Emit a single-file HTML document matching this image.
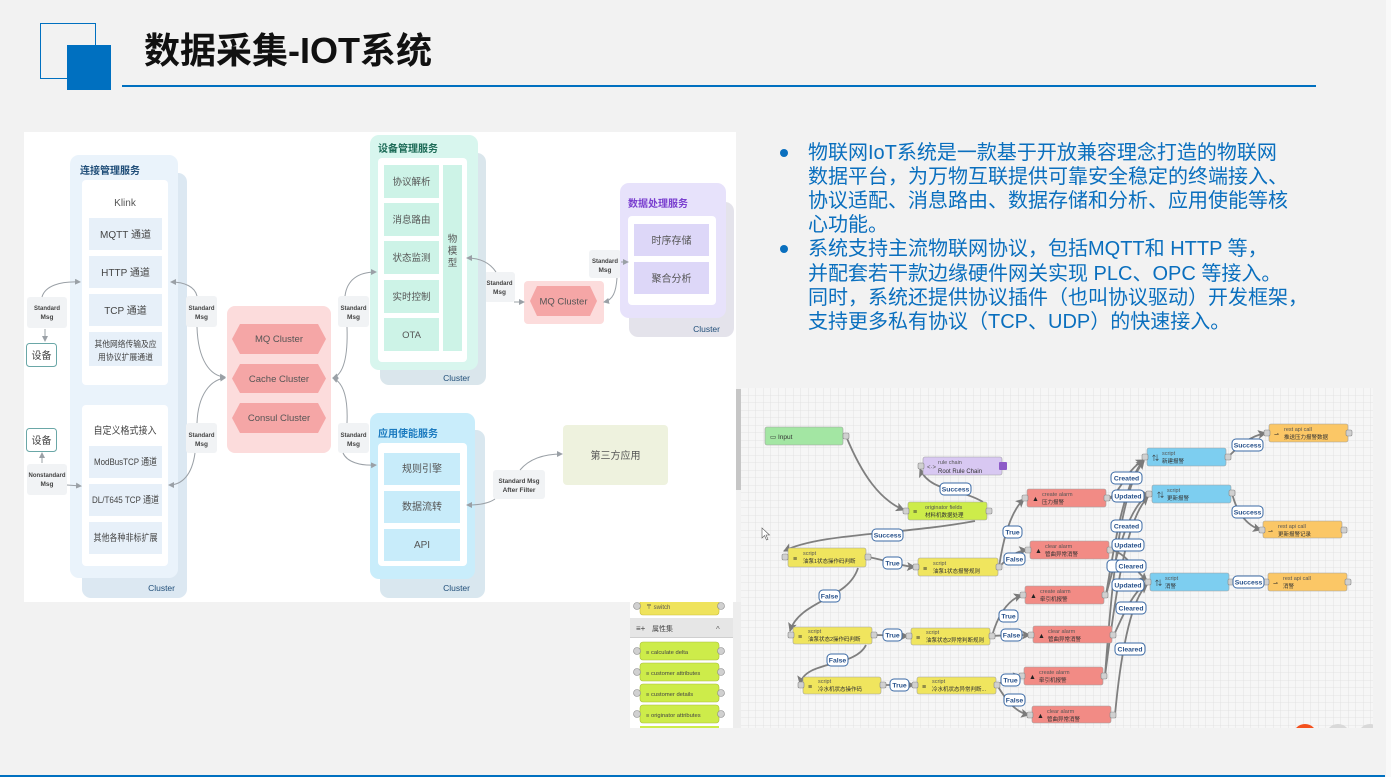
<!DOCTYPE html>
<html><head><meta charset="utf-8">
<style>
html,body{margin:0;padding:0;}
body{width:1391px;height:777px;background:#f2f2f2;position:relative;overflow:hidden;font-family:"Liberation Sans","Noto Sans CJK SC",sans-serif;}
svg{position:absolute;left:0;top:0;}
.title{position:absolute;left:144px;top:29px;font-size:36px;font-weight:bold;color:#111;line-height:44px;white-space:nowrap;font-family:"Liberation Sans","Noto Sans CJK SC",sans-serif;}
.bl{position:absolute;left:808px;font-size:20px;color:#0a6fbe;white-space:nowrap;line-height:24px;font-family:"Liberation Sans","Noto Sans CJK SC",sans-serif;}
.dot{position:absolute;left:780px;width:8px;height:8px;border-radius:50%;background:#0a6fbe;}
</style></head><body>
<svg width="1391" height="777" viewBox="0 0 1391 777" xmlns="http://www.w3.org/2000/svg" font-family="Liberation Sans, Noto Sans CJK SC, sans-serif">
<defs>
<marker id="ah" markerWidth="6" markerHeight="6" refX="5" refY="3" orient="auto" markerUnits="userSpaceOnUse"><path d="M0,0 L6,3 L0,6 Z" fill="#9aa0a6"/></marker>
<marker id="fa" markerWidth="9" markerHeight="9" refX="8" refY="4.5" orient="auto" markerUnits="userSpaceOnUse"><path d="M0,0 L9,4.5 L0,9 L2,4.5 Z" fill="#7a7a7a"/></marker>
<pattern id="grid" width="7.5" height="7.5" patternUnits="userSpaceOnUse" x="741" y="388"><path d="M7.5 0V7.5H0" fill="none" stroke="#dedede" stroke-width=".8"/></pattern>
<clipPath id="gc"><rect x="741" y="388" width="632" height="340"/></clipPath>
</defs>

<!-- header -->
<rect x="40.5" y="23.5" width="55" height="55" fill="none" stroke="#0070c0" stroke-width="1"/>
<rect x="67" y="45" width="44" height="45" fill="#0070c0"/>
<rect x="122" y="85" width="1194" height="2" fill="#0070c0"/>

<!-- right stripe & bottom line -->
<rect x="1386" y="0" width="5" height="777" fill="#f9f9f9"/>
<rect x="0" y="775" width="1385" height="2" fill="#0070c0"/>

<!-- flow grid -->
<rect x="741" y="388" width="632" height="340" fill="#f6f6f6"/>
<rect x="741" y="388" width="632" height="340" fill="url(#grid)"/>
<rect x="736" y="389" width="5" height="101" fill="#c6c6c6"/>
<rect x="733" y="602" width="8" height="126" fill="#ededed"/>
<g clip-path="url(#gc)">
<circle cx="1305" cy="736" r="12" fill="#f4511e"/>
<circle cx="1338" cy="736" r="12" fill="#d9d9d9"/>
<circle cx="1370" cy="736" r="12" fill="#d9d9d9"/>
</g>

<!-- palette -->
<rect x="630" y="596" width="103" height="132" fill="#fff"/>
<rect x="640" y="596" width="79" height="19" rx="3" fill="#efe35c" stroke="#c9bd3c" stroke-width=".6"/>
<circle cx="637" cy="606" r="3.5" fill="#d0d0d0" stroke="#8a8a8a" stroke-width=".6"/>
<circle cx="721" cy="606" r="3.5" fill="#d0d0d0" stroke="#8a8a8a" stroke-width=".6"/>
<text x="646" y="609" font-size="6" fill="#555">〒 switch</text>
<rect x="630" y="618" width="103" height="20" fill="#e6e6e6"/>
<rect x="630" y="637" width="103" height="1" fill="#cfcfcf"/>
<text x="636" y="631" font-size="8" fill="#444">≡+</text>
<text x="652" y="631" font-size="7" fill="#444">属性集</text>
<text x="716" y="632" font-size="8" fill="#666">^</text>
<g font-size="5.8" fill="#444">
<rect x="640" y="642" width="79" height="18" rx="3" fill="#cdec4a" stroke="#a8bd38" stroke-width=".6"/>
<rect x="640" y="663" width="79" height="18" rx="3" fill="#cdec4a" stroke="#a8bd38" stroke-width=".6"/>
<rect x="640" y="684" width="79" height="18" rx="3" fill="#cdec4a" stroke="#a8bd38" stroke-width=".6"/>
<rect x="640" y="705" width="79" height="18" rx="3" fill="#cdec4a" stroke="#a8bd38" stroke-width=".6"/>
<rect x="640" y="726" width="79" height="2" fill="#cdec4a"/>
<text x="646" y="654">≡ calculate delta</text>
<text x="646" y="675">≡ customer attributes</text>
<text x="646" y="696">≡ customer details</text>
<text x="646" y="717">≡ originator attributes</text>
</g>
<g fill="#d0d0d0" stroke="#8a8a8a" stroke-width=".6">
<circle cx="637" cy="651" r="3.5"/><circle cx="721" cy="651" r="3.5"/>
<circle cx="637" cy="672" r="3.5"/><circle cx="721" cy="672" r="3.5"/>
<circle cx="637" cy="693" r="3.5"/><circle cx="721" cy="693" r="3.5"/>
<circle cx="637" cy="714" r="3.5"/><circle cx="721" cy="714" r="3.5"/>
</g>

<!-- ============ LEFT DIAGRAM ============ -->
<rect x="24" y="132" width="712" height="470" fill="#fff"/>

<!-- 连接管理服务 -->
<rect x="82" y="173" width="105" height="425" rx="9" fill="#dce8f2"/>
<rect x="70" y="155" width="108" height="423" rx="9" fill="#eaf3fb"/>
<text x="80" y="174" font-size="10" font-weight="bold" fill="#1f4d78">连接管理服务</text>
<text x="175" y="591" font-size="8.5" text-anchor="end" fill="#1f4d78">Cluster</text>
<rect x="82" y="180" width="86" height="205" rx="4" fill="#fff"/>
<text x="125" y="206" font-size="10" text-anchor="middle" fill="#555">Klink</text>
<g fill="#e7f0f9">
<rect x="89" y="218" width="73" height="32"/>
<rect x="89" y="256" width="73" height="32"/>
<rect x="89" y="294" width="73" height="32"/>
<rect x="89" y="332" width="73" height="34"/>
</g>
<g font-size="10" text-anchor="middle" fill="#444">
<text x="125.5" y="238">MQTT 通道</text>
<text x="125.5" y="276">HTTP 通道</text>
<text x="125.5" y="314">TCP 通道</text>
<text x="125.5" y="347" font-size="8.5" textLength="62" lengthAdjust="spacingAndGlyphs">其他网络传输及应</text>
<text x="125.5" y="360" font-size="8.5" textLength="55" lengthAdjust="spacingAndGlyphs">用协议扩展通道</text>
</g>
<rect x="82" y="405" width="86" height="161" rx="4" fill="#fff"/>
<text x="125" y="434" font-size="10" text-anchor="middle" fill="#444" textLength="63" lengthAdjust="spacingAndGlyphs">自定义格式接入</text>
<g fill="#e7f0f9">
<rect x="89" y="446" width="73" height="32"/>
<rect x="89" y="484" width="73" height="32"/>
<rect x="89" y="522" width="73" height="32"/>
</g>
<g font-size="9.5" text-anchor="middle" fill="#444">
<text x="125.5" y="465" textLength="63" lengthAdjust="spacingAndGlyphs">ModBusTCP 通道</text>
<text x="125.5" y="503" textLength="67" lengthAdjust="spacingAndGlyphs">DL/T645 TCP 通道</text>
<text x="125.5" y="541" textLength="64" lengthAdjust="spacingAndGlyphs">其他各种非标扩展</text>
</g>

<!-- 设备 boxes -->
<rect x="26.5" y="343.5" width="30" height="23" rx="3" fill="#fff" stroke="#6aa7a7" stroke-width="1"/>
<text x="41.5" y="359" font-size="10" text-anchor="middle" fill="#444">设备</text>
<rect x="26.5" y="428.5" width="30" height="23" rx="3" fill="#fff" stroke="#6aa7a7" stroke-width="1"/>
<text x="41.5" y="444" font-size="10" text-anchor="middle" fill="#444">设备</text>

<!-- Std msg labels -->
<g fill="#f1f3f5">
<rect x="27" y="297" width="40" height="31" rx="3"/>
<rect x="27" y="464" width="40" height="31" rx="3"/>
<rect x="186" y="296" width="31" height="31" rx="3"/>
<rect x="186" y="423" width="31" height="30" rx="3"/>
<rect x="338" y="296" width="31" height="31" rx="3"/>
<rect x="338" y="423" width="31" height="30" rx="3"/>
<rect x="484" y="272" width="31" height="30" rx="3"/>
<rect x="589" y="250" width="32" height="28" rx="3"/>
<rect x="493" y="470" width="52" height="29" rx="3"/>
</g>
<g font-size="6.5" font-weight="bold" fill="#444" text-anchor="middle">
<text x="47" y="310" textLength="26" lengthAdjust="spacingAndGlyphs">Standard</text><text x="47" y="319">Msg</text>
<text x="47" y="477" textLength="37" lengthAdjust="spacingAndGlyphs">Nonstandard</text><text x="47" y="486">Msg</text>
<text x="201.5" y="310" textLength="26" lengthAdjust="spacingAndGlyphs">Standard</text><text x="201.5" y="319">Msg</text>
<text x="201.5" y="437" textLength="26" lengthAdjust="spacingAndGlyphs">Standard</text><text x="201.5" y="446">Msg</text>
<text x="353.5" y="310" textLength="26" lengthAdjust="spacingAndGlyphs">Standard</text><text x="353.5" y="319">Msg</text>
<text x="353.5" y="437" textLength="26" lengthAdjust="spacingAndGlyphs">Standard</text><text x="353.5" y="446">Msg</text>
<text x="499.5" y="285" textLength="26" lengthAdjust="spacingAndGlyphs">Standard</text><text x="499.5" y="294">Msg</text>
<text x="605" y="263" textLength="26" lengthAdjust="spacingAndGlyphs">Standard</text><text x="605" y="272">Msg</text>
<text x="519" y="483" textLength="41" lengthAdjust="spacingAndGlyphs">Standard Msg</text><text x="519" y="492">After Filter</text>
</g>

<!-- cluster center -->
<rect x="227" y="306" width="104" height="147" rx="8" fill="#fcdcdc"/>
<g fill="#f5a6a6">
<polygon points="240,324 318,324 326,339 318,354 240,354 232,339"/>
<polygon points="240,364 318,364 326,378.5 318,393 240,393 232,378.5"/>
<polygon points="240,403 318,403 326,418 318,433 240,433 232,418"/>
</g>
<g font-size="9.5" text-anchor="middle" fill="#555">
<text x="279" y="342">MQ Cluster</text>
<text x="279" y="382">Cache Cluster</text>
<text x="279" y="421">Consul Cluster</text>
</g>

<!-- 设备管理服务 -->
<rect x="380" y="153" width="106" height="232" rx="9" fill="#dae6ec"/>
<rect x="370" y="135" width="108" height="235" rx="9" fill="#d8f6ee"/>
<text x="378" y="152" font-size="10" font-weight="bold" fill="#1d6b57">设备管理服务</text>
<text x="470" y="381" font-size="8.5" text-anchor="end" fill="#1f4d78">Cluster</text>
<rect x="378" y="158" width="89" height="204" rx="4" fill="#fff"/>
<g fill="#cdf3e7">
<rect x="384" y="165" width="55" height="33"/>
<rect x="384" y="203" width="55" height="33"/>
<rect x="384" y="241" width="55" height="33"/>
<rect x="384" y="280" width="55" height="33"/>
<rect x="384" y="318" width="55" height="33"/>
<rect x="443" y="165" width="19" height="186"/>
</g>
<g font-size="9.5" text-anchor="middle" fill="#555">
<text x="411.5" y="185">协议解析</text>
<text x="411.5" y="223">消息路由</text>
<text x="411.5" y="261">状态监测</text>
<text x="411.5" y="300">实时控制</text>
<text x="411.5" y="338">OTA</text>
<text x="452.5" y="242">物</text>
<text x="452.5" y="254">模</text>
<text x="452.5" y="266">型</text>
</g>

<!-- MQ cluster right -->
<rect x="524" y="281" width="80" height="43" rx="4" fill="#fcdcdc"/>
<polygon points="537,286 590,286 597,301 590,316 537,316 530,301" fill="#f5a6a6"/>
<text x="563.5" y="304.5" font-size="9.5" text-anchor="middle" fill="#555">MQ Cluster</text>

<!-- 数据处理服务 -->
<rect x="629" y="202" width="105" height="135" rx="9" fill="#e4e3eb"/>
<rect x="620" y="183" width="106" height="135" rx="9" fill="#e7e2fb"/>
<text x="628" y="207" font-size="10" font-weight="bold" fill="#7a3fcf">数据处理服务</text>
<text x="720" y="332" font-size="8.5" text-anchor="end" fill="#1f4d78">Cluster</text>
<rect x="628" y="216" width="88" height="89" rx="4" fill="#fff"/>
<rect x="634" y="224" width="75" height="32" fill="#ddd7f8"/>
<rect x="634" y="262" width="75" height="32" fill="#ddd7f8"/>
<text x="671.5" y="244" font-size="10" text-anchor="middle" fill="#555">时序存储</text>
<text x="671.5" y="282" font-size="10" text-anchor="middle" fill="#555">聚合分析</text>

<!-- 应用使能服务 -->
<rect x="380" y="430" width="105" height="168" rx="9" fill="#d9e7ef"/>
<rect x="370" y="413" width="105" height="166" rx="9" fill="#c9edfb"/>
<text x="378" y="437" font-size="10" font-weight="bold" fill="#1a7abf">应用使能服务</text>
<text x="470" y="591" font-size="8.5" text-anchor="end" fill="#1f4d78">Cluster</text>
<rect x="378" y="443" width="89" height="123" rx="4" fill="#fff"/>
<g fill="#c8ecfa">
<rect x="384" y="453" width="76" height="32"/>
<rect x="384" y="491" width="76" height="32"/>
<rect x="384" y="529" width="76" height="32"/>
</g>
<g font-size="10" text-anchor="middle" fill="#555">
<text x="422" y="472">规则引擎</text>
<text x="422" y="510">数据流转</text>
<text x="422" y="548">API</text>
</g>

<!-- 第三方应用 -->
<rect x="563" y="425" width="105" height="60" rx="4" fill="#eef2de"/>
<text x="615.5" y="459" font-size="10" text-anchor="middle" fill="#555">第三方应用</text>

<!-- left arrows -->
<g fill="none" stroke="#9aa0a6" stroke-width="1" marker-end="url(#ah)">
<path d="M42,297 C45,286 60,281 80,282"/>
<path d="M45,329 L45,341"/>
<path d="M42,463 L42,453"/>
<path d="M67,485 L81,486"/>
<path d="M197,296 C195,287 185,282 171,282"/>
<path d="M197,327 C198,360 210,376 225,377"/>
<path d="M197,423 C198,395 210,380 225,378"/>
<path d="M195,453 C192,475 182,485 169,485"/>
<path d="M345,296 C347,280 358,272 376,272"/>
<path d="M347,327 C348,355 344,374 333,378"/>
<path d="M347,423 C348,400 344,383 333,378"/>
<path d="M343,453 C347,462 360,466 376,465"/>
<path d="M496,272 C490,263 481,258 467,258"/>
<path d="M514,302 L524,302"/>
<path d="M621,262 L628,262"/>
<path d="M617,278 C616,292 613,300 604,302"/>
<path d="M520,470 C530,458 545,454 562,454"/>
<path d="M495,499 C488,504 478,505 467,505"/>
</g>

<!-- ============ FLOW ============ -->
<g fill="none" stroke="#7f7f7f" stroke-width="1.8">
<path d="M846,436 C862,475 880,500 904,510" marker-end="url(#fa)"/>
<path d="M983,502 C960,488 930,492 920,469" marker-end="url(#fa)"/>
<path d="M975,521 C900,535 820,533 784,551" marker-end="url(#fa)"/>
<path d="M868,557 C885,560 900,566 915,567" marker-end="url(#fa)"/>
<path d="M999,567 C1003,540 1010,512 1024,499" marker-end="url(#fa)"/>
<path d="M999,567 C1008,558 1015,551 1027,550" marker-end="url(#fa)"/>
<path d="M858,568 C848,600 800,600 790,631" marker-end="url(#fa)"/>
<path d="M874,635 C885,635 898,636 908,636" marker-end="url(#fa)"/>
<path d="M992,636 C998,615 1008,600 1022,595" marker-end="url(#fa)"/>
<path d="M992,636 C1005,635 1018,635 1030,635" marker-end="url(#fa)"/>
<path d="M866,645 C855,668 805,660 800,684" marker-end="url(#fa)"/>
<path d="M883,685 C893,685 903,685 914,685" marker-end="url(#fa)"/>
<path d="M997,685 C1004,680 1012,677 1021,676" marker-end="url(#fa)"/>
<path d="M997,685 C1006,700 1015,712 1029,715" marker-end="url(#fa)"/>
<path d="M1108,498 C1120,495 1125,470 1144,460" marker-end="url(#fa)"/>
<path d="M1108,498 C1125,498 1135,494 1148,494" marker-end="url(#fa)"/>
<path d="M1111,550 C1125,552 1135,570 1147,581" marker-end="url(#fa)"/>
<path d="M1106,595 C1115,540 1125,480 1144,460" marker-end="url(#fa)"/>
<path d="M1106,595 C1118,550 1130,505 1148,496" marker-end="url(#fa)"/>
<path d="M1114,635 C1125,610 1135,590 1147,583" marker-end="url(#fa)"/>
<path d="M1105,676 C1112,580 1120,490 1144,461" marker-end="url(#fa)"/>
<path d="M1105,676 C1115,600 1125,520 1148,497" marker-end="url(#fa)"/>
<path d="M1115,715 C1120,660 1130,600 1147,585" marker-end="url(#fa)"/>
<path d="M1228,457 C1240,445 1250,436 1266,433" marker-end="url(#fa)"/>
<path d="M1232,493 C1236,510 1245,525 1261,530" marker-end="url(#fa)"/>
<path d="M1231,582 L1266,582" marker-end="url(#fa)"/>
</g>

<!-- flow nodes -->
<g stroke="#a0a0a0" stroke-width=".6">
<rect x="765" y="427" width="78" height="18" rx="2" fill="#a3e6a3"/>
<rect x="923" y="457" width="79" height="18" rx="2" fill="#d8c8f2"/>
<rect x="908" y="502" width="79" height="18" rx="2" fill="#cdec4a"/>
<rect x="788" y="548" width="78" height="19" rx="2" fill="#f0e55e"/>
<rect x="918" y="558" width="80" height="18" rx="2" fill="#f0e55e"/>
<rect x="1027" y="489" width="79" height="18" rx="2" fill="#f28b85"/>
<rect x="1030" y="541" width="79" height="18" rx="2" fill="#f28b85"/>
<rect x="1025" y="586" width="79" height="18" rx="2" fill="#f28b85"/>
<rect x="793" y="627" width="79" height="17" rx="2" fill="#f0e55e"/>
<rect x="911" y="628" width="79" height="17" rx="2" fill="#f0e55e"/>
<rect x="1033" y="626" width="79" height="17" rx="2" fill="#f28b85"/>
<rect x="803" y="677" width="78" height="17" rx="2" fill="#f0e55e"/>
<rect x="917" y="677" width="79" height="17" rx="2" fill="#f0e55e"/>
<rect x="1024" y="667" width="79" height="18" rx="2" fill="#f28b85"/>
<rect x="1032" y="706" width="79" height="17" rx="2" fill="#f28b85"/>
<rect x="1147" y="448" width="79" height="18" rx="2" fill="#7dcef0"/>
<rect x="1152" y="485" width="79" height="18" rx="2" fill="#7dcef0"/>
<rect x="1150" y="573" width="79" height="18" rx="2" fill="#7dcef0"/>
<rect x="1269" y="424" width="79" height="18" rx="2" fill="#fbc766"/>
<rect x="1263" y="521" width="79" height="17" rx="2" fill="#fbc766"/>
<rect x="1268" y="573" width="79" height="18" rx="2" fill="#fbc766"/>
</g>
<rect x="999" y="462" width="8" height="8" rx="1" fill="#8e5cc8"/>
<!-- ports -->
<g fill="#d0d0d0" stroke="#888" stroke-width=".6">
<rect x="843" y="433" width="6" height="6" rx="1.5"/>
<rect x="918" y="463" width="6" height="6" rx="1.5"/>
<rect x="903" y="508" width="6" height="6" rx="1.5"/><rect x="986" y="508" width="6" height="6" rx="1.5"/>
<rect x="782" y="554" width="6" height="6" rx="1.5"/><rect x="865" y="554" width="6" height="6" rx="1.5"/>
<rect x="913" y="564" width="6" height="6" rx="1.5"/><rect x="996" y="564" width="6" height="6" rx="1.5"/>
<rect x="1022" y="495" width="6" height="6" rx="1.5"/><rect x="1104" y="495" width="6" height="6" rx="1.5"/>
<rect x="1025" y="547" width="6" height="6" rx="1.5"/><rect x="1107" y="547" width="6" height="6" rx="1.5"/>
<rect x="1020" y="592" width="6" height="6" rx="1.5"/><rect x="1102" y="592" width="6" height="6" rx="1.5"/>
<rect x="788" y="632" width="6" height="6" rx="1.5"/><rect x="871" y="632" width="6" height="6" rx="1.5"/>
<rect x="906" y="633" width="6" height="6" rx="1.5"/><rect x="989" y="633" width="6" height="6" rx="1.5"/>
<rect x="1028" y="632" width="6" height="6" rx="1.5"/><rect x="1110" y="632" width="6" height="6" rx="1.5"/>
<rect x="798" y="682" width="6" height="6" rx="1.5"/><rect x="880" y="682" width="6" height="6" rx="1.5"/>
<rect x="912" y="682" width="6" height="6" rx="1.5"/><rect x="994" y="682" width="6" height="6" rx="1.5"/>
<rect x="1019" y="673" width="6" height="6" rx="1.5"/><rect x="1101" y="673" width="6" height="6" rx="1.5"/>
<rect x="1027" y="712" width="6" height="6" rx="1.5"/><rect x="1110" y="712" width="6" height="6" rx="1.5"/>
<rect x="1142" y="454" width="6" height="6" rx="1.5"/><rect x="1225" y="454" width="6" height="6" rx="1.5"/>
<rect x="1146" y="491" width="6" height="6" rx="1.5"/><rect x="1229" y="490" width="6" height="6" rx="1.5"/>
<rect x="1145" y="579" width="6" height="6" rx="1.5"/><rect x="1228" y="579" width="6" height="6" rx="1.5"/>
<rect x="1264" y="430" width="6" height="6" rx="1.5"/><rect x="1346" y="430" width="6" height="6" rx="1.5"/>
<rect x="1259" y="527" width="6" height="6" rx="1.5"/><rect x="1341" y="527" width="6" height="6" rx="1.5"/>
<rect x="1263" y="579" width="6" height="6" rx="1.5"/><rect x="1345" y="579" width="6" height="6" rx="1.5"/>
</g>
<!-- node text -->
<g font-size="5.5" fill="#555">
<text x="770" y="439" font-size="6.5" fill="#333">▭ Input</text>
<text x="927" y="469" font-size="6">&lt;·&gt;</text>
<text x="938" y="464">rule chain</text><text x="938" y="473" fill="#333" font-size="6">Root Rule Chain</text>
<text x="913" y="514" font-size="7" fill="#333">≡</text>
<text x="925" y="509">originator fields</text><text x="925" y="517" fill="#333">材料机数据处理</text>
<text x="793" y="561" font-size="7" fill="#333">≡</text>
<text x="803" y="555">script</text><text x="803" y="563" fill="#333">油泵1状态操作码判断</text>
<text x="923" y="571" font-size="7" fill="#333">≡</text>
<text x="933" y="565">script</text><text x="933" y="573" fill="#333">油泵1状态报警规则</text>
<text x="1032" y="501" font-size="7" fill="#222">▲</text>
<text x="1042" y="496">create alarm</text><text x="1042" y="504" fill="#333">压力报警</text>
<text x="1035" y="553" font-size="7" fill="#222">▲</text>
<text x="1045" y="548">clear alarm</text><text x="1045" y="556" fill="#333">管曲异常消警</text>
<text x="1030" y="598" font-size="7" fill="#222">▲</text>
<text x="1040" y="593">create alarm</text><text x="1040" y="601" fill="#333">牵引机报警</text>
<text x="798" y="639" font-size="7" fill="#333">≡</text>
<text x="808" y="633">script</text><text x="808" y="641" fill="#333">油泵状态2操作码判断</text>
<text x="916" y="640" font-size="7" fill="#333">≡</text>
<text x="926" y="634">script</text><text x="926" y="642" fill="#333">油泵状态2异常判断规则</text>
<text x="1038" y="638" font-size="7" fill="#222">▲</text>
<text x="1048" y="633">clear alarm</text><text x="1048" y="641" fill="#333">管曲异常消警</text>
<text x="808" y="689" font-size="7" fill="#333">≡</text>
<text x="818" y="683">script</text><text x="818" y="691" fill="#333">冷水机状态操作码</text>
<text x="922" y="689" font-size="7" fill="#333">≡</text>
<text x="932" y="683">script</text><text x="932" y="691" fill="#333">冷水机状态异常判断...</text>
<text x="1029" y="679" font-size="7" fill="#222">▲</text>
<text x="1039" y="674">create alarm</text><text x="1039" y="682" fill="#333">牵引机报警</text>
<text x="1037" y="718" font-size="7" fill="#222">▲</text>
<text x="1047" y="713">clear alarm</text><text x="1047" y="721" fill="#333">管曲异常消警</text>
<text x="1152" y="460" font-size="7" fill="#333">⇅</text>
<text x="1162" y="455">script</text><text x="1162" y="463" fill="#333">新建报警</text>
<text x="1157" y="497" font-size="7" fill="#333">⇅</text>
<text x="1167" y="492">script</text><text x="1167" y="500" fill="#333">更新报警</text>
<text x="1155" y="585" font-size="7" fill="#333">⇅</text>
<text x="1165" y="580">script</text><text x="1165" y="588" fill="#333">消警</text>
<text x="1274" y="436" font-size="6" fill="#222">⇀</text>
<text x="1284" y="431">rest api call</text><text x="1284" y="439" fill="#333">推送压力报警数据</text>
<text x="1268" y="533" font-size="6" fill="#222">⇀</text>
<text x="1278" y="528">rest api call</text><text x="1278" y="536" fill="#333">更新报警记录</text>
<text x="1273" y="585" font-size="6" fill="#222">⇀</text>
<text x="1283" y="580">rest api call</text><text x="1283" y="588" fill="#333">消警</text>
</g>

<!-- flow labels -->
<g fill="#fff" stroke="#3b6aa5" stroke-width="1">
<rect x="940" y="483" width="31" height="12" rx="4"/>
<rect x="872" y="529" width="31" height="12" rx="4"/>
<rect x="883" y="557" width="19" height="12" rx="4"/>
<rect x="1003" y="526" width="19" height="12" rx="4"/>
<rect x="1004" y="553" width="21" height="12" rx="4"/>
<rect x="819" y="590" width="21" height="12" rx="4"/>
<rect x="883" y="629" width="19" height="12" rx="4"/>
<rect x="999" y="610" width="19" height="12" rx="4"/>
<rect x="1001" y="629" width="21" height="12" rx="4"/>
<rect x="827" y="654" width="21" height="12" rx="4"/>
<rect x="890" y="679" width="19" height="12" rx="4"/>
<rect x="1001" y="674" width="19" height="12" rx="4"/>
<rect x="1004" y="694" width="21" height="12" rx="4"/>
<rect x="1111" y="472" width="31" height="12" rx="4"/>
<rect x="1112" y="490" width="32" height="12" rx="4"/>
<rect x="1111" y="520" width="31" height="12" rx="4"/>
<rect x="1112" y="539" width="32" height="12" rx="4"/>
<rect x="1107" y="560" width="30" height="12" rx="4"/>
<rect x="1116" y="560" width="30" height="12" rx="4"/>
<rect x="1112" y="579" width="32" height="12" rx="4"/>
<rect x="1116" y="602" width="30" height="12" rx="4"/>
<rect x="1115" y="643" width="30" height="12" rx="4"/>
<rect x="1232" y="439" width="31" height="12" rx="4"/>
<rect x="1232" y="506" width="31" height="12" rx="4"/>
<rect x="1233" y="576" width="31" height="12" rx="4"/>
</g>
<g font-size="6.8" font-weight="bold" fill="#26508a" text-anchor="middle">
<text x="955.5" y="491.5">Success</text>
<text x="887.5" y="537.5">Success</text>
<text x="892.5" y="565.5">True</text>
<text x="1012.5" y="534.5">True</text>
<text x="1014.5" y="561.5">False</text>
<text x="829.5" y="598.5">False</text>
<text x="892.5" y="637.5">True</text>
<text x="1008.5" y="618.5">True</text>
<text x="1011.5" y="637.5">False</text>
<text x="837.5" y="662.5">False</text>
<text x="899.5" y="687.5">True</text>
<text x="1010.5" y="682.5">True</text>
<text x="1014.5" y="702.5">False</text>
<text x="1126.5" y="480.5">Created</text>
<text x="1128" y="498.5">Updated</text>
<text x="1126.5" y="528.5">Created</text>
<text x="1128" y="547.5">Updated</text>
<text x="1131" y="568.5">Cleared</text>
<text x="1128" y="587.5">Updated</text>
<text x="1131" y="610.5">Cleared</text>
<text x="1130" y="651.5">Cleared</text>
<text x="1247.5" y="447.5">Success</text>
<text x="1247.5" y="514.5">Success</text>
<text x="1248.5" y="584.5">Success</text>
</g>

<!-- cursor -->
<path d="M762,528 L762,538 L764.5,535.5 L766.5,540 L768,539.3 L766,535 L769.5,535 Z" fill="#fff" stroke="#555" stroke-width=".6"/>
</svg>

<div class="title">数据采集-IOT系统</div>

<div class="dot" style="top:149px"></div>
<div class="dot" style="top:245px"></div>
<div class="bl" style="top:141px">物联网IoT系统是一款基于开放兼容理念打造的物联网</div>
<div class="bl" style="top:165px">数据平台，为万物互联提供可靠安全稳定的终端接入、</div>
<div class="bl" style="top:189px">协议适配、消息路由、数据存储和分析、应用使能等核</div>
<div class="bl" style="top:213px">心功能。</div>
<div class="bl" style="top:237px">系统支持主流物联网协议，包括MQTT和 HTTP 等，</div>
<div class="bl" style="top:262px">并配套若干款边缘硬件网关实现 PLC、OPC 等接入。</div>
<div class="bl" style="top:286px">同时，系统还提供协议插件（也叫协议驱动）开发框架，</div>
<div class="bl" style="top:310px">支持更多私有协议（TCP、UDP）的快速接入。</div>
</body></html>
